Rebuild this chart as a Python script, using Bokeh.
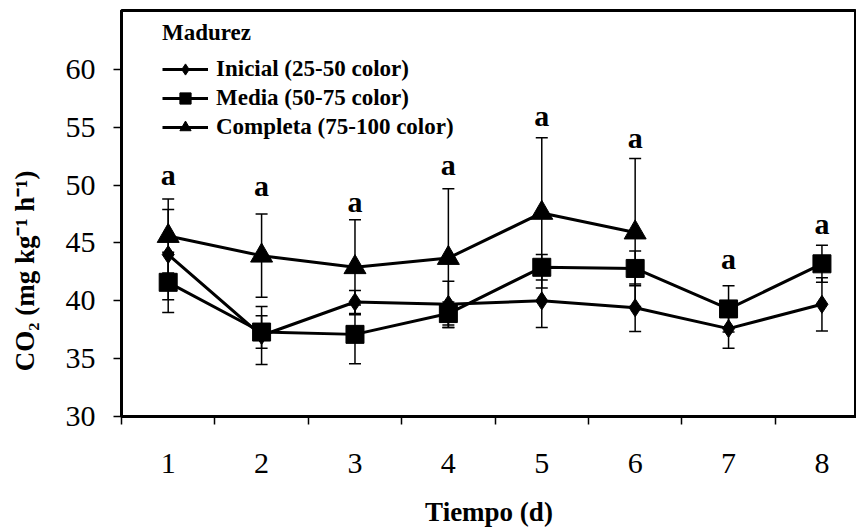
from bokeh.plotting import figure
from bokeh.models import (ColumnDataSource, Whisker, TeeHead, FixedTicker, Legend,
                          LegendItem, Range1d, Title)
from bokeh.core.properties import value
from bokeh.embed import file_html
from bokeh.resources import INLINE

# ---- data ----
days = [1, 2, 3, 4, 5, 6, 7, 8]
inicial = [44.0, 37.0, 39.9, 39.7, 40.0, 39.4, 37.6, 39.7]
inicial_err = [3.9, 2.5, 1.0, 2.0, 2.3, 2.05, 1.7, 2.3]
media = [41.6, 37.3, 37.1, 38.9, 42.9, 42.8, 39.3, 43.2]
media_err = [2.6, 1.4, 2.55, 1.0, 1.1, 1.5, 2.0, 1.6]
days_completa = [1, 2, 3, 4, 5, 6]
completa = [45.6, 43.9, 42.9, 43.7, 47.6, 45.9]
completa_err = [3.2, 3.6, 4.1, 6.0, 6.5, 6.4]
sig_labels = ["a", "a", "a", "a", "a", "a", "a", "a"]
sig_y = [50.9, 50.0, 48.6, 51.8, 56.0, 54.1, 43.7, 46.7]
y_ticks = [30, 35, 40, 45, 50, 55, 60]
series_names = ["Inicial (25-50 color)", "Media (50-75 color)", "Completa (75-100 color)"]
y_title = "CO\u2082 (mg kg\u207b\u00b9 h\u207b\u00b9)"
x_title = "Tiempo (d)"
legend_title = "Madurez"

FONT = "Liberation Serif"

p = figure(width=856, height=531, output_backend="svg", toolbar_location=None,
           x_range=Range1d(0.5, 8.37), y_range=Range1d(30, 65.1),
           min_border_left=121, min_border_right=0, min_border_top=10,
           min_border_bottom=115)
p.xgrid.visible = False
p.ygrid.visible = False
p.background_fill_color = "white"
p.border_fill_color = "white"
p.outline_line_color = "black"
p.outline_line_width = 3

# axes
xa = p.xaxis[0]
xa.ticker = FixedTicker(ticks=days, minor_ticks=[d - 0.5 for d in days] + [8.5])
xa.major_tick_out = 0
xa.major_tick_in = 0
xa.minor_tick_out = 8
xa.minor_tick_in = 0
xa.minor_tick_line_width = 1.5
xa.minor_tick_line_color = "black"
xa.axis_line_width = 3
xa.axis_line_color = "black"
xa.major_label_text_font = FONT
xa.major_label_text_font_size = "30px"
xa.major_label_text_color = "black"
xa.major_label_standoff = 29
xa.axis_label = x_title
xa.axis_label_text_font = FONT
xa.axis_label_text_font_style = "bold"
xa.axis_label_text_font_size = "27px"
xa.axis_label_text_color = "black"
xa.axis_label_standoff = 21

ya = p.yaxis[0]
ya.ticker = FixedTicker(ticks=y_ticks)
ya.minor_tick_line_color = None
ya.major_tick_out = 8
ya.major_tick_in = 0
ya.major_tick_line_width = 1.5
ya.major_tick_line_color = "black"
ya.axis_line_width = 3
ya.axis_line_color = "black"
ya.major_label_text_font = FONT
ya.major_label_text_font_size = "30px"
ya.major_label_text_color = "black"
ya.major_label_standoff = 18

# small empty spacer between the tick labels and the y-axis title
p.add_layout(Title(text=" ", text_font_size="6px"), "left")
# y-axis title; trailing no-break spaces push the visible text below the
# frame centre, as in the original
yt = Title(text=y_title + "\u00a0" * 17, align="center", text_font=FONT,
           text_font_style="bold", text_font_size="27px", text_color="black")
p.add_layout(yt, "left")

# error bars
def add_err(xs, ys, es):
    src = ColumnDataSource(dict(x=xs, upper=[y + e for y, e in zip(ys, es)],
                                lower=[y - e for y, e in zip(ys, es)]))
    w = Whisker(source=src, base="x", upper="upper", lower="lower",
                line_color="black", line_width=1.5, level="glyph",
                upper_head=TeeHead(size=12, line_width=1.5, line_color="black"),
                lower_head=TeeHead(size=12, line_width=1.5, line_color="black"))
    p.add_layout(w)

add_err(days, inicial, inicial_err)
add_err(days, media, media_err)
add_err(days_completa, completa, completa_err)

# series
l1 = p.line(days, inicial, line_color="black", line_width=3)
m1 = p.scatter(days, inicial, marker="diamond", size=18, color="black")
l2 = p.line(days, media, line_color="black", line_width=3)
m2 = p.scatter(days, media, marker="square", size=18, color="black")
l3 = p.line(days_completa, completa, line_color="black", line_width=3)
m3 = p.scatter(days_completa, completa, marker="triangle", size=22, color="black")

# significance letters
p.text(x=days, y=sig_y, text=sig_labels, text_font=value(FONT),
       text_font_style="bold", text_font_size="30px", text_align="center",
       text_baseline="middle", text_color="black")

legend = Legend(items=[LegendItem(label=series_names[0], renderers=[l1, m1]),
                       LegendItem(label=series_names[1], renderers=[l2, m2]),
                       LegendItem(label=series_names[2], renderers=[l3, m3])],
                title=legend_title, location=(41, 275))
legend.title_text_font = FONT
legend.title_text_font_style = "bold"
legend.title_text_font_size = "23px"
legend.title_text_color = "black"
legend.title_standoff = 9
legend.label_text_font = FONT
legend.label_text_font_style = "bold"
legend.label_text_font_size = "23px"
legend.label_text_color = "black"
legend.glyph_width = 46
legend.glyph_height = 28
legend.label_height = 28
legend.spacing = 1
legend.padding = 0
legend.margin = 0
legend.label_standoff = 8
legend.border_line_color = None
legend.background_fill_alpha = 0
p.add_layout(legend)

open("out.html", "w").write(file_html(p, INLINE))
